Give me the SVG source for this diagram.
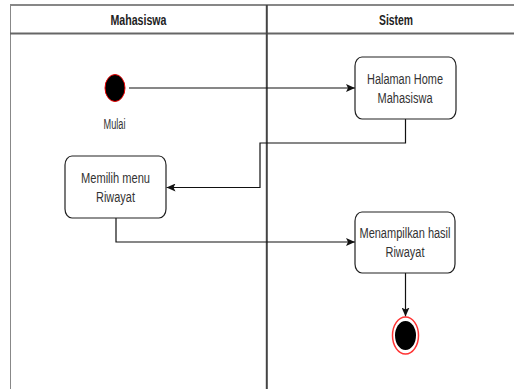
<svg xmlns="http://www.w3.org/2000/svg" width="514" height="389" viewBox="0 0 514 389">
<style>
.lbl{font-family:"Liberation Sans",Arial,sans-serif;font-size:14px;fill:#333;text-anchor:middle}
.hdr{font-family:"Liberation Sans",Arial,sans-serif;font-size:14px;font-weight:bold;fill:#222;text-anchor:middle}
.box{fill:#fff;stroke:#222;stroke-width:1.2}
.edge{fill:none;stroke:#111;stroke-width:1.2}
</style>
<defs>
<marker id="arr" markerWidth="10" markerHeight="8" refX="9" refY="4" orient="auto" markerUnits="userSpaceOnUse">
<path d="M0,0 L9,4 L0,8 L2,4 z" fill="#111"/>
</marker>
</defs>
<rect x="0" y="0" width="514" height="389" fill="#fff"/>
<g id="lanes">
<line x1="10" y1="5" x2="514" y2="5" stroke="#111" stroke-width="1.2"/>
<line x1="10.5" y1="5" x2="10.5" y2="389" stroke="#888" stroke-width="1"/>
<line x1="10" y1="33.5" x2="514" y2="33.5" stroke="#666" stroke-width="2"/>
<line x1="266.8" y1="5" x2="266.8" y2="389" stroke="#444" stroke-width="2"/>
<text class="hdr" x="138.5" y="25" textLength="56" lengthAdjust="spacingAndGlyphs">Mahasiswa</text>
<text class="hdr" x="396" y="25" textLength="34" lengthAdjust="spacingAndGlyphs">Sistem</text>
</g>
<g id="connectors">
<path class="edge" d="M129,88 H355" marker-end="url(#arr)"/>
<path class="edge" d="M405.5,119 V143 H260 V187.5 H166.5" marker-end="url(#arr)"/>
<path class="edge" d="M116,218 V242 H355" marker-end="url(#arr)"/>
<path class="edge" d="M405.5,273 V316.5" marker-end="url(#arr)"/>
</g>
<g id="start">
<ellipse cx="115" cy="88" rx="10" ry="13.5" fill="#000" stroke="#e00" stroke-width="1"/>
<text class="lbl" x="114.5" y="129" textLength="22" lengthAdjust="spacingAndGlyphs">Mulai</text>
</g>
<g id="halaman">
<rect class="box" x="355" y="57" width="101" height="62" rx="7" ry="9"/>
<text class="lbl" x="405" y="84" textLength="76" lengthAdjust="spacingAndGlyphs">Halaman Home</text>
<text class="lbl" x="405" y="102.5" textLength="55" lengthAdjust="spacingAndGlyphs">Mahasiswa</text>
</g>
<g id="memilih">
<rect class="box" x="65" y="156" width="101" height="62" rx="7" ry="9"/>
<text class="lbl" x="115.5" y="183" textLength="69" lengthAdjust="spacingAndGlyphs">Memilih menu</text>
<text class="lbl" x="115.5" y="202" textLength="39" lengthAdjust="spacingAndGlyphs">Riwayat</text>
</g>
<g id="menampilkan">
<rect class="box" x="355" y="212" width="100" height="61" rx="7" ry="9"/>
<text class="lbl" x="405" y="238" textLength="91" lengthAdjust="spacingAndGlyphs">Menampilkan hasil</text>
<text class="lbl" x="405" y="256.5" textLength="39" lengthAdjust="spacingAndGlyphs">Riwayat</text>
</g>
<g id="end">
<ellipse cx="405.5" cy="335.5" rx="13" ry="18.5" fill="#fff" stroke="#f33" stroke-width="1.5"/>
<ellipse cx="405.5" cy="335.5" rx="10.5" ry="14.5" fill="#000"/>
</g>
</svg>
